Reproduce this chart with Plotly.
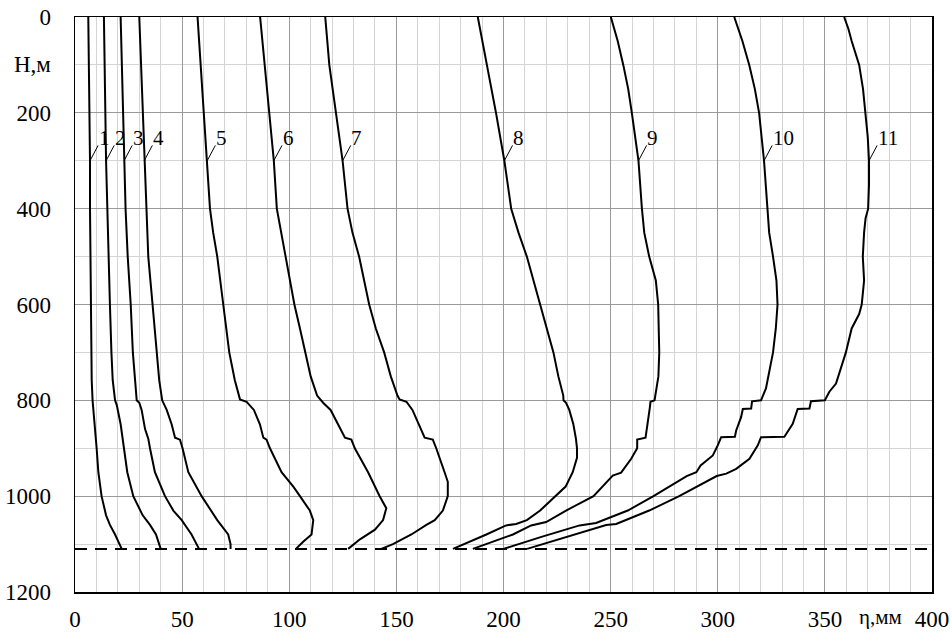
import numpy as np
import plotly.graph_objects as go

# ---- data: depth H (m) vs displacement eta (mm), curves 1..11 ----
H1 = [0, 100, 200, 300, 400, 500, 600, 700, 758, 800, 850, 900, 950, 1000, 1040, 1060, 1080, 1110]
E1 = [6.2, 6.5, 6.8, 7.0, 7.0, 7.2, 7.3, 7.6, 7.8, 8.2, 9.3, 10.1, 10.9, 12.4, 14.5, 16.3, 18.7, 21.8]

H2 = [0, 100, 200, 300, 400, 500, 600, 700, 758, 800, 810, 850, 900, 950, 1000, 1040, 1060, 1080, 1110]
E2 = [13.5, 13.8, 14.1, 14.5, 15.1, 15.6, 16.3, 17.0, 17.6, 18.7, 19.5, 21.3, 22.9, 24.4, 27.2, 31.6, 35.0, 37.8, 40.0]

H3 = [0, 100, 200, 300, 400, 500, 600, 700, 758, 800, 805, 820, 860, 880, 900, 950, 1000, 1030, 1050, 1080, 1110]
E3 = [21.3, 21.8, 22.3, 22.9, 23.6, 24.6, 26.0, 27.0, 28.0, 28.8, 30.0, 31.1, 32.7, 34.2, 35.0, 37.3, 42.0, 45.9, 49.8, 54.4, 57.9]

H4 = [0, 100, 200, 300, 400, 500, 600, 700, 758, 800, 820, 850, 878, 882, 900, 950, 1000, 1050, 1080, 1100, 1110]
E4 = [30.0, 30.8, 31.5, 32.3, 33.1, 34.2, 36.2, 38.0, 39.3, 40.7, 42.8, 45.1, 46.7, 49.0, 50.2, 52.9, 59.1, 66.4, 71.5, 72.6, 72.6]

H5 = [0, 100, 200, 300, 400, 450, 500, 600, 700, 758, 798, 803, 810, 820, 850, 878, 882, 900, 950, 980, 1000, 1030, 1050, 1080, 1095, 1110]
E5 = [57.2, 58.6, 60.2, 61.7, 63.0, 64.5, 66.4, 69.2, 72.0, 74.6, 77.0, 80.1, 81.6, 83.5, 86.3, 87.9, 89.4, 91.0, 96.4, 101.9, 105.0, 109.6, 111.2, 110.4, 106.5, 103.1]

H6 = [0, 100, 200, 300, 400, 450, 500, 600, 650, 700, 750, 790, 798, 805, 820, 878, 882, 900, 950, 1000, 1025, 1050, 1070, 1090, 1110]
E6 = [86.4, 88.5, 90.8, 92.8, 94.2, 96.2, 98.5, 102.4, 105.0, 107.5, 110.0, 113.0, 114.5, 115.8, 119.3, 126.0, 129.0, 130.6, 136.8, 142.2, 145.3, 143.8, 140.0, 133.0, 127.5]

H7 = [0, 100, 200, 300, 400, 450, 500, 600, 650, 700, 750, 790, 798, 803, 820, 878, 882, 900, 950, 970, 1000, 1030, 1050, 1060, 1080, 1100, 1110]
E7 = [116.8, 118.7, 121.8, 124.9, 127.2, 129.5, 132.6, 137.3, 140.4, 144.3, 147.4, 150.5, 151.5, 154.7, 157.5, 163.2, 167.0, 168.6, 172.5, 174.0, 174.0, 171.7, 167.9, 164.0, 157.0, 148.4, 143.0]

H8 = [0, 100, 200, 300, 400, 450, 500, 600, 650, 700, 750, 790, 800, 805, 820, 850, 880, 900, 920, 950, 980, 1000, 1030, 1050, 1058, 1061, 1080, 1110]
E8 = [188.0, 192.3, 196.5, 200.4, 203.6, 207.0, 210.9, 217.1, 220.2, 223.3, 225.6, 227.9, 228.0, 229.2, 230.7, 232.6, 233.8, 234.3, 234.3, 232.3, 229.0, 224.4, 217.1, 210.9, 205.9, 201.2, 192.0, 176.4]

H9 = [0, 50, 100, 150, 200, 300, 400, 450, 500, 550, 600, 700, 750, 790, 800, 803, 815, 878, 882, 900, 922, 951, 957, 1000, 1030, 1054, 1061, 1080, 1110]
E9 = [250.1, 253.3, 255.9, 258.2, 259.9, 263.0, 264.6, 265.7, 268.0, 271.1, 272.2, 272.7, 272.3, 271.1, 270.5, 268.6, 268.3, 266.3, 262.4, 262.4, 259.6, 254.9, 251.0, 242.0, 229.2, 219.9, 212.9, 204.4, 185.7]

H10 = [0, 50, 100, 150, 200, 300, 400, 450, 500, 550, 600, 650, 700, 775, 800, 802, 817, 818, 835, 863, 876, 877, 894, 915, 936, 950, 958, 1000, 1030, 1056, 1061, 1070, 1085, 1110]
E10 = [307.7, 311.5, 314.7, 317.3, 319.3, 321.6, 323.2, 324.0, 325.8, 327.4, 327.9, 327.1, 325.8, 322.5, 320.2, 316.0, 315.6, 311.7, 310.9, 308.6, 308.0, 301.6, 300.0, 297.7, 292.0, 290.0, 285.5, 270.0, 258.0, 243.2, 235.5, 228.6, 217.7, 200.0]

H11 = [0, 25, 50, 100, 150, 200, 250, 300, 350, 400, 420, 450, 500, 550, 600, 620, 650, 700, 750, 765, 782, 800, 802, 817, 818, 849, 876, 877, 894, 922, 943, 953, 958, 1000, 1030, 1058, 1060, 1085, 1110]
E11 = [359.0, 361.0, 362.5, 366.0, 367.8, 368.8, 370.0, 370.6, 370.6, 370.2, 369.0, 368.3, 367.7, 368.3, 367.2, 366.0, 362.5, 359.8, 356.5, 355.2, 352.1, 350.0, 343.5, 342.8, 337.3, 335.0, 331.1, 320.2, 318.7, 314.8, 308.6, 304.0, 299.5, 282.0, 268.0, 252.6, 247.9, 229.0, 211.0]

CURVE_LABELS = ["1", "2", "3", "4", "5", "6", "7", "8", "9", "10", "11"]
LABEL_DEPTH = 300          # depth where the callout leaders touch the curves
BOTTOM_DEPTH = 1110        # dashed horizontal line
X_TICKS = [0, 50, 100, 150, 200, 250, 300, 350, 400]
Y_TICKS = [0, 200, 400, 600, 800, 1000, 1200]
X_TITLE = "η,мм"
Y_TITLE = "H,м"

HS = [H1, H2, H3, H4, H5, H6, H7, H8, H9, H10, H11]
ES = [E1, E2, E3, E4, E5, E6, E7, E8, E9, E10, E11]

FONT = "Liberation Serif, Times New Roman, serif"

fig = go.Figure()

# dashed bottom line
fig.add_trace(go.Scatter(x=[X_TICKS[0], X_TICKS[-1]], y=[BOTTOM_DEPTH, BOTTOM_DEPTH], mode="lines",
                         line=dict(color="black", width=2, dash="12px,8px"),
                         hoverinfo="skip", showlegend=False))

for lab, h, e in zip(CURVE_LABELS, HS, ES):
    fig.add_trace(go.Scatter(x=e, y=h, mode="lines", line=dict(color="black", width=2),
                             name=lab, showlegend=False))
    xc = float(np.interp(LABEL_DEPTH, h, e))
    fig.add_trace(go.Scatter(x=[xc, xc + 3.8], y=[LABEL_DEPTH, LABEL_DEPTH - 32], mode="lines",
                             line=dict(color="black", width=1), hoverinfo="skip", showlegend=False))
    fig.add_annotation(x=xc + 3.2, y=LABEL_DEPTH - 47, text=lab, showarrow=False,
                       xanchor="left", yanchor="middle",
                       font=dict(family=FONT, size=21, color="black"))

fig.add_annotation(x=0, xref="paper", xshift=-22, y=100, yref="y", text=Y_TITLE, showarrow=False,
                   xanchor="right", yanchor="middle", font=dict(family=FONT, size=23, color="black"))
fig.add_annotation(x=376, xref="x", y=0, yref="paper", yshift=-25, text=X_TITLE, showarrow=False,
                   xanchor="center", yanchor="middle", font=dict(family=FONT, size=21, color="black"))

fig.update_layout(
    template="none",
    width=952, height=634, autosize=False,
    margin=dict(l=75, r=20, t=17, b=42, pad=0),
    paper_bgcolor="white", plot_bgcolor="white",
    showlegend=False,
    font=dict(family=FONT, size=23, color="black"),
)
fig.update_xaxes(range=[X_TICKS[0], X_TICKS[-1]], tickvals=X_TICKS, ticks="", automargin=False,
                 showgrid=True, gridcolor="#9a9a9a", gridwidth=1,
                 minor=dict(dtick=10, tick0=0, showgrid=True, gridcolor="#d4d4d4", gridwidth=1),
                 showline=True, linecolor="black", linewidth=1.5, mirror=True, zeroline=False,
                 tickfont=dict(family=FONT, size=23, color="black"), ticklabelstandoff=6)
fig.update_yaxes(range=[Y_TICKS[-1], Y_TICKS[0]], tickvals=Y_TICKS, ticks="", automargin=False,
                 showgrid=True, gridcolor="#9a9a9a", gridwidth=1,
                 minor=dict(dtick=100, tick0=0, showgrid=True, gridcolor="#d4d4d4", gridwidth=1),
                 showline=True, linecolor="black", linewidth=1.5, mirror=True, zeroline=False,
                 tickfont=dict(family=FONT, size=23, color="black"), ticklabelstandoff=18)

fig.write_html("out.html", config={"displayModeBar": False, "staticPlot": True},
               post_script="document.body.style.margin='0';document.body.style.overflow='hidden';")
